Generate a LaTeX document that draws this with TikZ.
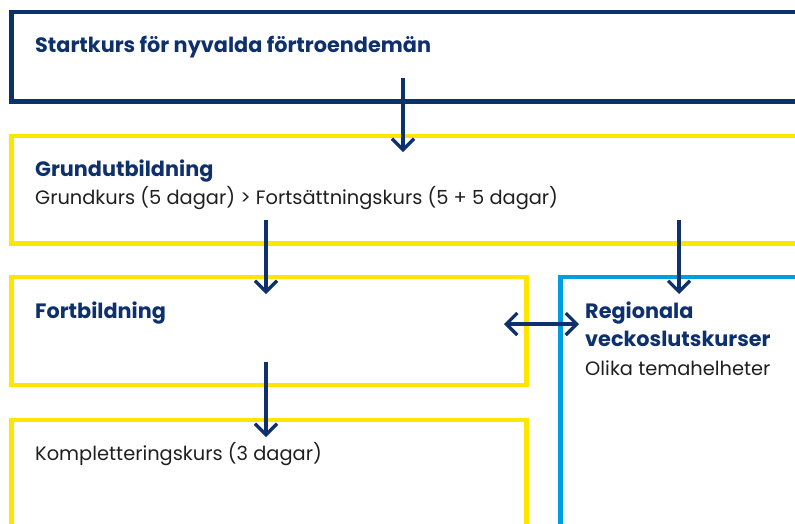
\documentclass[tikz,border=0pt]{standalone}
\usepackage{fontspec}
\setmainfont{Poppins}
\usetikzlibrary{arrows.meta}
\definecolor{navy}{RGB}{14,48,108}
\definecolor{yel}{RGB}{255,230,0}
\definecolor{cyanb}{RGB}{0,158,224}
\tikzset{
  box/.style={draw, line width=4.5pt, anchor=north west, inner sep=0pt, minimum width=#1},
  head/.style={anchor=base west, inner sep=0pt, text=navy, font=\fontsize{20.8}{24}\selectfont\bfseries},
  body/.style={anchor=base west, inner sep=0pt, text=black!88, font=\fontsize{19.4}{22}\selectfont},
  conn/.style={draw=navy, line width=3.2pt, -{Straight Barb[length=11pt,width=22pt,line width=3.2pt]}},
  conn2/.style={draw=navy, line width=3.2pt, {Straight Barb[length=11pt,width=22pt,line width=3.2pt]}-{Straight Barb[length=11pt,width=22pt,line width=3.2pt]}}
}
\begin{document}
\begin{tikzpicture}[x=1pt,y=-1pt]
\useasboundingbox (0,0) rectangle (795,523);
\clip (0,0) rectangle (795,523);
% boxes
\node[box=840pt, draw=navy, minimum height=89.5pt] (b1) at (9,9.5) {};
\node[box=840pt, draw=yel, minimum height=107.5pt] (b2) at (9,133.5) {};
\node[box=515pt, draw=yel, minimum height=108pt] (b3) at (9,274.5) {};
\node[box=515pt, draw=yel, minimum height=140pt] (b4) at (9,417.5) {};
\node[box=300pt, draw=cyanb, minimum height=300pt] (b5) at (558,274.5) {};
% texts
\node[head] (t1) at (35,52.5) {Startkurs för nyvalda förtroendemän};
\node[head] (t2) at (35,176) {Grundutbildning};
\node[body] (t3) at (35,204) {Grundkurs (5 dagar) > Fortsättningskurs (5 + 5 dagar)};
\node[head] (t4) at (35,318) {Fortbildning};
\node[head] (t5) at (585,318) {Regionala};
\node[head] (t6) at (585,346) {veckoslutskurser};
\node[body] (t7) at (585,375) {Olika temahelheter};
\node[body] (t8) at (35,460) {Kompletteringskurs (3 dagar)};
% connector end points
\coordinate (a1s) at (403,78);   \coordinate (a1e) at (403,152);
\coordinate (a2s) at (266,220);  \coordinate (a2e) at (266,294);
\coordinate (a3s) at (679,220);  \coordinate (a3e) at (679,294);
\coordinate (a4s) at (504,324);  \coordinate (a4e) at (579,324);
\coordinate (a5s) at (266,362);  \coordinate (a5e) at (266,437);
\draw[conn] (a1s) -- (a1e);
\draw[conn] (a2s) -- (a2e);
\draw[conn] (a3s) -- (a3e);
\draw[conn2] (a4s) -- (a4e);
\draw[conn] (a5s) -- (a5e);
\end{tikzpicture}
\end{document}
